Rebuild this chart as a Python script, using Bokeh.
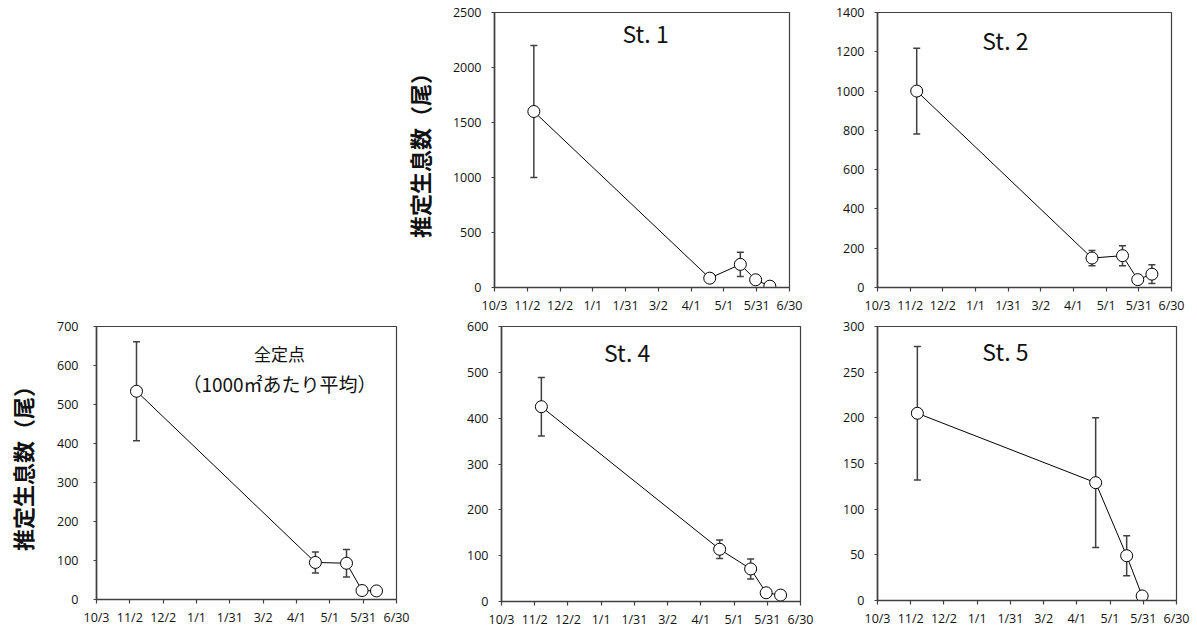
import pandas as pd
from bokeh.plotting import figure
from bokeh.layouts import row, column, Spacer
from bokeh.models import ColumnDataSource, Whisker, TeeHead, FixedTicker, Label, Range1d
from bokeh.embed import file_html
from bokeh.resources import INLINE

# ---------------- data ----------------
start_date = "2013-10-03"
tick_dates = ["2013-10-03", "2013-11-02", "2013-12-02", "2014-01-01", "2014-01-31",
              "2014-03-02", "2014-04-01", "2014-05-01", "2014-05-31", "2014-06-30"]
tick_labels = ["10/3", "11/2", "12/2", "1/1", "1/31", "3/2", "4/1", "5/1", "5/31", "6/30"]
survey_dates = ["2013-11-08", "2014-04-18", "2014-05-16", "2014-05-30", "2014-06-12"]

st1_values = [1600, 85, 210, 70, 12]
st1_errors = [600, 10, 110, 10, 5]
st2_values = [1000, 150, 162, 40, 68]
st2_errors = [218, 39, 51, 10, 48]
all_values = [534, 95, 93, 23, 22]
all_errors = [127, 27, 35, 5, 5]
st4_values = [425, 114, 71, 19, 14]
st4_errors = [64, 20, 22, 5, 3]
st5_values = [205, 129, 49, 5]
st5_errors = [73, 71, 22, 2]

y_label = "推定生息数（尾）"

# ---------------- helpers ----------------
t0 = pd.Timestamp(start_date)
def days(ds):
    return [(pd.Timestamp(d) - t0).days for d in ds]

tick_pos = days(tick_dates)
X_END = tick_pos[-1]

TICK_FONT = "Open Sans"
CJK = "Noto Sans CJK JP"
AX = "#404040"
YLAB_SIZE = "22px"


def panel(values, errors, ymax, ystep, titles, fw, fh, bl, br, bt, bb,
          ylabel=False, ylab_standoff=14, ytick_standoff=10, xtick_standoff=5):
    xs = days(survey_dates[:len(values)])
    src = ColumnDataSource(dict(
        x=xs, y=values,
        lo=[v - e for v, e in zip(values, errors)],
        hi=[v + e for v, e in zip(values, errors)],
    ))
    p = figure(frame_width=fw, frame_height=fh, output_backend="svg",
               toolbar_location=None, x_range=Range1d(0, X_END),
               y_range=Range1d(0, ymax), min_border_left=bl, min_border_right=br,
               min_border_top=bt, min_border_bottom=bb)
    p.xgrid.visible = False
    p.ygrid.visible = False
    p.background_fill_color = "white"
    p.border_fill_color = "white"
    p.outline_line_color = AX
    p.outline_line_width = 1.2

    p.xaxis.ticker = FixedTicker(ticks=tick_pos)
    p.xaxis.major_label_overrides = {t: l for t, l in zip(tick_pos, tick_labels)}
    p.yaxis.ticker = FixedTicker(ticks=list(range(0, ymax + 1, ystep)))
    for ax in (p.xaxis, p.yaxis):
        ax.axis_line_color = AX
        ax.axis_line_width = 1.6
        ax.major_tick_line_color = AX
        ax.major_tick_line_width = 1.2
        ax.major_tick_in = 0
        ax.minor_tick_line_color = None
        ax.major_label_text_font = TICK_FONT
        ax.major_label_text_font_size = "12.5px"
        ax.major_label_text_color = "#111111"
    p.xaxis.major_tick_out = 4
    p.xaxis.major_label_standoff = xtick_standoff
    p.yaxis.major_tick_out = 3
    p.yaxis.major_label_standoff = ytick_standoff
    if ylabel:
        p.yaxis.axis_label = y_label
        p.yaxis.axis_label_text_font = CJK
        p.yaxis.axis_label_text_font_size = YLAB_SIZE
        p.yaxis.axis_label_text_font_style = "bold"
        p.yaxis.axis_label_text_color = "#111111"
        p.yaxis.axis_label_standoff = ylab_standoff

    w = Whisker(base="x", lower="lo", upper="hi", source=src,
                line_color=AX, line_width=1.5, level="underlay",
                upper_head=TeeHead(size=7, line_color=AX, line_width=1.5),
                lower_head=TeeHead(size=7, line_color=AX, line_width=1.5))
    p.add_layout(w)
    p.line("x", "y", source=src, line_color="black", line_width=1)
    p.scatter("x", "y", source=src, marker="circle", size=12,
              fill_color="white", line_color="black", line_width=1)

    for text, fx, fy, size in titles:
        p.add_layout(Label(x=X_END * fx, y=ymax * (1 - fy), text=text,
                           text_font=CJK, text_font_size=size,
                           text_align="center", text_baseline="middle",
                           text_color="#111111"))
    return p


# ---- top row (frames share top/bottom borders) ----
p1 = panel(st1_values, st1_errors, 2500, 500, [("St. 1", 0.512, 0.076, "23px")],
           fw=295, fh=275, bl=100, br=31, bt=12, bb=27, ylabel=True, ylab_standoff=15)
p2 = panel(st2_values, st2_errors, 1400, 200, [("St. 2", 0.435, 0.10, "23px")],
           fw=294, fh=275, bl=57, br=21, bt=12, bb=27)
top = row(Spacer(width=394, height=314), p1, p2)

# ---- bottom row (frames share the same top) ----
p_all = panel(all_values, all_errors, 700, 100,
              [("全定点", 0.61, 0.10, "17px"), ("（1000㎡あたり平均）", 0.61, 0.21, "19px")],
              fw=300, fh=273, bl=96, br=14, bt=10, bb=27, ylabel=True,
              ylab_standoff=16, ytick_standoff=15)
p4 = panel(st4_values, st4_errors, 600, 100, [("St. 4", 0.42, 0.094, "23px")],
           fw=299, fh=275, bl=91, br=20, bt=10, bb=27)
p5 = panel(st5_values, st5_errors, 300, 50, [("St. 5", 0.428, 0.088, "23px")],
           fw=299, fh=274, bl=57, br=16, bt=10, bb=27)
bottom = row(p_all, p4, p5)

layout = column(top, bottom)
open("out.html", "w").write(file_html(layout, INLINE))
